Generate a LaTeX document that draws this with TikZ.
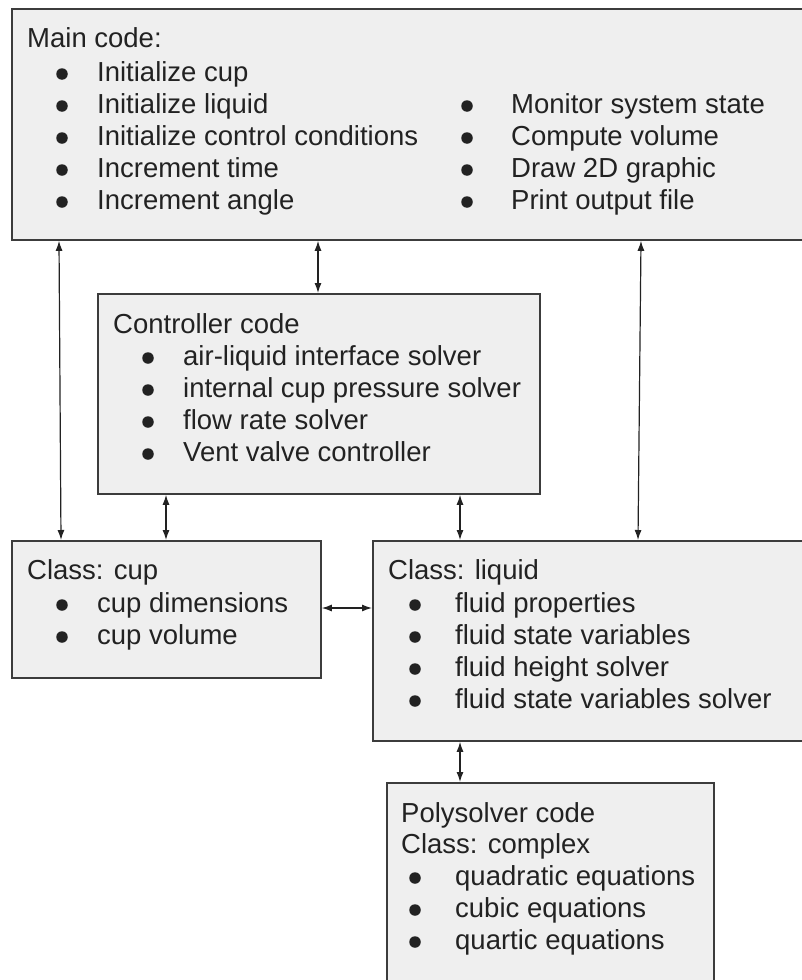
\documentclass[tikz,border=0pt]{standalone}
\usepackage{fontspec}
\setmainfont{Liberation Sans}
\usetikzlibrary{arrows.meta}
\definecolor{boxfill}{RGB}{239,239,239}
\definecolor{boxline}{RGB}{60,60,60}
\definecolor{txt}{RGB}{34,34,34}
\tikzset{
  box/.style={draw=boxline, line width=1.8pt, fill=boxfill, rectangle, anchor=north west, inner sep=0pt},
  lbl/.style={anchor=base west, inner sep=0pt, text=txt, font=\fontsize{27.5}{32}\selectfont},
  bul/.style={fill=txt, circle, inner sep=0pt, minimum size=11.5pt},
  arr/.style={draw=txt, line width=1.2pt, {Latex[length=10pt,width=7pt]}-{Latex[length=10pt,width=7pt]}},
}
\begin{document}
\begin{tikzpicture}[x=1pt,y=-1pt]
\useasboundingbox (0,0) rectangle (801,980);
% boxes
\node[box, minimum width=799pt, minimum height=231pt] (main) at (11,8) {};
\node[box, minimum width=442pt, minimum height=200pt] (ctrl) at (97,293) {};
\node[box, minimum width=309pt, minimum height=137pt] (cup) at (11,540) {};
\node[box, minimum width=440pt, minimum height=200pt] (liq) at (372,540) {};
\node[box, minimum width=327pt, minimum height=210pt] (poly) at (386,782) {};
% main text
\node[lbl] (mt) at (27,47) {Main code:};
\foreach \t [count=\i] in {Initialize cup, Initialize liquid, Initialize control conditions, Increment time, Increment angle} {
  \node[bul] (mb\i) at (62,{81+32*(\i-1)-7}) {};
  \node[lbl] (ml\i) at (97,{81+32*(\i-1)}) {\t};
}
\foreach \t [count=\i] in {Monitor system state, Compute volume, Draw 2D graphic, Print output file} {
  \node[bul] (rb\i) at (467,{113+32*(\i-1)-7}) {};
  \node[lbl] (rl\i) at (511,{113+32*(\i-1)}) {\t};
}
% controller
\node[lbl] (ct) at (113,333) {Controller code};
\foreach \t [count=\i] in {air-liquid interface solver, internal cup pressure solver, flow rate solver, Vent valve controller} {
  \node[bul] (cb\i) at (148,{365+32*(\i-1)-7}) {};
  \node[lbl] (cl\i) at (183,{365+32*(\i-1)}) {\t};
}
% cup
\node[lbl] (ut) at (27,579) {Class: cup};
\foreach \t [count=\i] in {cup dimensions, cup volume} {
  \node[bul] (ub\i) at (62,{612+32*(\i-1)-7}) {};
  \node[lbl] (ul\i) at (97,{612+32*(\i-1)}) {\t};
}
% liquid
\node[lbl] (lt) at (388,579) {Class: liquid};
\foreach \t [count=\i] in {fluid properties, fluid state variables, fluid height solver, fluid state variables solver} {
  \node[bul] (lb\i) at (415,{612+32*(\i-1)-7}) {};
  \node[lbl] (ll\i) at (455,{612+32*(\i-1)}) {\t};
}
% poly
\node[lbl] (pt) at (401,822) {Polysolver code};
\node[lbl] (pc) at (401,853) {Class: complex};
\foreach \t [count=\i] in {quadratic equations, cubic equations, quartic equations} {
  \node[bul] (pb\i) at (415,{885+32*(\i-1)-7}) {};
  \node[lbl] (pl\i) at (455,{885+32*(\i-1)}) {\t};
}
% connectors
\draw[arr] ([xshift=48pt]main.south west) -- ([xshift=50pt]cup.north west);
\draw[arr] ([xshift=307pt]main.south west) -- ([xshift=221pt]ctrl.north west);
\draw[arr] ([xshift=630pt]main.south west) -- ([xshift=266pt]liq.north west);
\draw[arr] ([xshift=69pt]ctrl.south west) -- ([xshift=155pt]cup.north west);
\draw[arr] ([xshift=363pt]ctrl.south west) -- ([xshift=88pt]liq.north west);
\draw[arr] ([yshift=-68pt]cup.north east) -- ([yshift=-68pt]liq.north west);
\draw[arr] ([xshift=88pt]liq.south west) -- ([xshift=74pt]poly.north west);
\end{tikzpicture}
\end{document}
